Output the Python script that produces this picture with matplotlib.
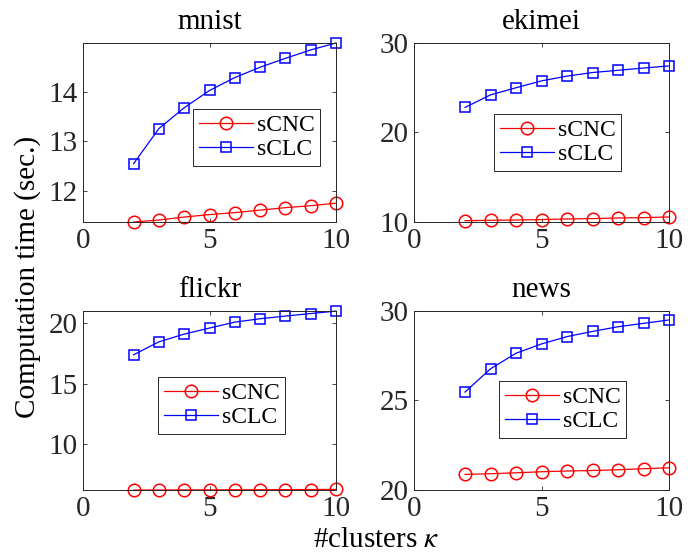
import matplotlib
matplotlib.use("Agg")
import matplotlib.pyplot as plt

plt.rcParams['font.family'] = ['Liberation Serif', 'DejaVu Serif']
plt.rcParams['mathtext.fontset'] = 'stix'

W, H = 697, 556

k = [2, 3, 4, 5, 6, 7, 8, 9, 10]
datasets = ["mnist", "ekimei", "flickr", "news"]
scnc = {
    "mnist":  [11.37, 11.41, 11.47, 11.52, 11.56, 11.61, 11.66, 11.70, 11.75],
    "ekimei": [10.15, 10.19, 10.22, 10.27, 10.34, 10.38, 10.45, 10.49, 10.56],
    "flickr": [6.20, 6.20, 6.21, 6.21, 6.22, 6.22, 6.23, 6.24, 6.25],
    "news":   [20.87, 20.91, 20.96, 21.02, 21.06, 21.09, 21.13, 21.19, 21.24],
}
sclc = {
    "mnist":  [12.55, 13.26, 13.68, 14.03, 14.29, 14.50, 14.68, 14.85, 14.99],
    "ekimei": [22.8, 24.2, 25.0, 25.77, 26.3, 26.7, 26.95, 27.2, 27.44],
    "flickr": [17.38, 18.45, 19.09, 19.59, 20.08, 20.36, 20.58, 20.79, 20.99],
    "news":   [25.47, 26.77, 27.64, 28.16, 28.57, 28.86, 29.12, 29.31, 29.5],
}
ylims = {"mnist": (11.37, 14.99), "ekimei": (10, 30), "flickr": (6.2, 21.0), "news": (20, 30)}
yticks = {"mnist": [12, 13, 14], "ekimei": [10, 20, 30], "flickr": [10, 15, 20], "news": [20, 25, 30]}
xticks = [0, 5, 10]

# pixel layouts: (left, top, right, bottom)
boxes = {"mnist": (83, 43, 336, 222), "ekimei": (414, 43, 669, 222),
         "flickr": (83, 311, 336, 490), "news": (414, 311, 669, 490)}
legpos = {"mnist": (193, 109), "ekimei": (494, 114), "flickr": (158, 377), "news": (499, 381)}

fig = plt.figure(figsize=(W / 100, H / 100), dpi=100)
gray = '#262626'
fs = 21
lfs = 17

for name in datasets:
    l, t, r, b = boxes[name]
    ax = fig.add_axes([l / W, 1 - b / H, (r - l) / W, (b - t) / H])
    ax.plot(k, scnc[name], color='red', marker='o', markersize=9, markerfacecolor='none',
            lw=0.9, mew=1.1, label='sCNC', clip_on=False)
    ax.plot(k, sclc[name], color='blue', marker='s', markersize=7, markerfacecolor='none',
            lw=0.9, mew=1.1, label='sCLC', clip_on=False)
    ax.set_xlim(0, 10)
    ax.set_ylim(*ylims[name])
    ax.set_xticks(xticks)
    ax.set_yticks(yticks[name])
    ax.tick_params(direction='in', top=True, right=True, labelsize=fs, colors=gray,
                   length=3, width=0.6, pad=4)
    for s in ax.spines.values():
        s.set_color(gray)
        s.set_linewidth(0.7)
    ax.set_title(name, fontsize=fs, pad=10)
    lx, ly = legpos[name]
    leg = ax.legend(loc='upper left', bbox_to_anchor=(lx / W, 1 - ly / H),
                    bbox_transform=fig.transFigure, borderaxespad=0, fontsize=lfs,
                    fancybox=False, framealpha=1, edgecolor=gray, handlelength=2.3,
                    handletextpad=0.15, labelspacing=0.1, borderpad=0.25)
    leg.get_frame().set_linewidth(0.7)

fig.text(28 / W, 1 - 277 / H, 'Computation time (sec.)', rotation=90, fontsize=fs,
         ha='center', va='center')
fig.text(376 / W, 1 - 540 / H, r'#clusters $\kappa$', fontsize=fs, ha='center', va='center')

fig.savefig('out.png', dpi=100)
